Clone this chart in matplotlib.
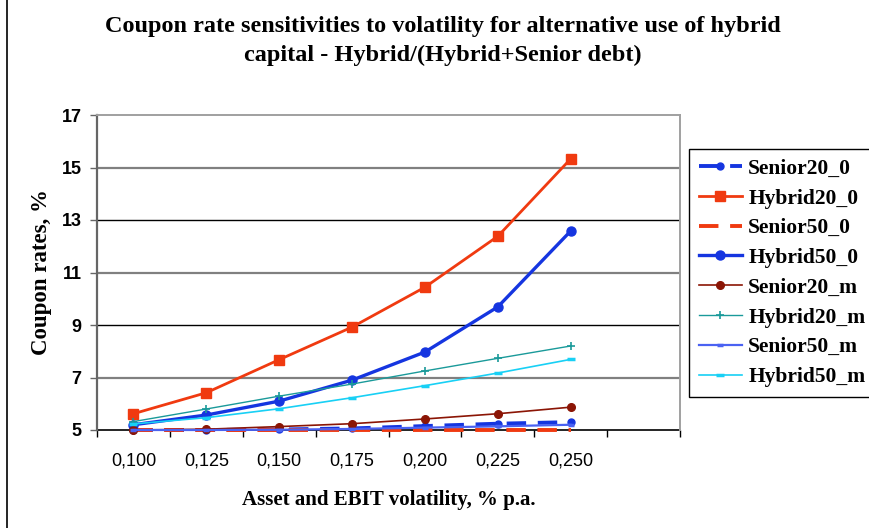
"""Coupon rate sensitivities to volatility - line chart recreation."""

import matplotlib
matplotlib.use("Agg")
import matplotlib.pyplot as plt
from matplotlib.lines import Line2D

# Data
volatility = ["0,100", "0,125", "0,150", "0,175", "0,200", "0,225", "0,250"]
categories = volatility + [""]  # Excel axis has one trailing empty category

senior20_0 = [5.00, 5.00, 5.02, 5.06, 5.15, 5.24, 5.30]
hybrid20_0 = [5.62, 6.42, 7.68, 8.92, 10.44, 12.38, 15.33]
senior50_0 = [5.00, 5.00, 5.00, 5.00, 5.00, 5.00, 5.00]
hybrid50_0 = [5.20, 5.57, 6.10, 6.90, 7.97, 9.69, 12.58]
senior20_m = [5.00, 5.03, 5.13, 5.24, 5.42, 5.62, 5.87]
hybrid20_m = [5.32, 5.80, 6.29, 6.75, 7.25, 7.73, 8.20]
senior50_m = [5.00, 5.00, 5.01, 5.04, 5.09, 5.14, 5.20]
hybrid50_m = [5.23, 5.47, 5.81, 6.23, 6.69, 7.17, 7.69]

y_ticks = [5, 7, 9, 11, 13, 15, 17]

SERIF = "Liberation Serif"
SANS = "Liberation Sans"

fig = plt.figure(figsize=(8.69, 5.28), dpi=100)
ax = fig.add_axes([97 / 869, 1 - 430 / 528, (680 - 97) / 869, (430 - 115) / 528])

x = list(range(len(volatility)))

series = [
    ("Senior20_0", senior20_0, dict(color="#1535E0", lw=2.8, ls=(0, (5, 3)), marker="o", ms=5)),
    ("Hybrid20_0", hybrid20_0, dict(color="#F03A10", lw=2.0, marker="s", ms=6.5)),
    ("Senior50_0", senior50_0, dict(color="#F03A10", lw=2.8, ls=(0, (5, 3)), marker=None)),
    ("Hybrid50_0", hybrid50_0, dict(color="#1535E0", lw=2.4, marker="o", ms=6.5)),
    ("Senior20_m", senior20_m, dict(color="#8B1505", lw=1.2, marker="o", ms=5.5)),
    ("Hybrid20_m", hybrid20_m, dict(color="#1A9A9A", lw=1.0, marker="+", ms=6, mew=1.2)),
    ("Senior50_m", senior50_m, dict(color="#4A62F2", lw=1.6, marker="_", ms=5, mew=2.5)),
    ("Hybrid50_m", hybrid50_m, dict(color="#18D0F5", lw=1.2, marker="_", ms=6, mew=2.5)),
]

for name, vals, style in series:
    ax.plot(x, vals, label=name, zorder=3, clip_on=False, **style)

# Gridlines (alternating tones as in the original export)
for i, yv in enumerate(y_ticks[1:-1]):
    ax.axhline(yv, color="#808080" if i % 2 == 0 else "#000000",
               lw=1.6 if i % 2 == 0 else 1.0, zorder=1)

ax.set_xlim(-0.5, len(categories) - 0.5)
ax.set_ylim(y_ticks[0], y_ticks[-1])

ax.set_yticks(y_ticks)
ax.set_yticklabels([str(v) for v in y_ticks], fontfamily=SANS, fontweight="bold", fontsize=13)
ax.tick_params(axis="y", direction="out", length=5, width=1, color="#666666", pad=6)

ax.set_xticks(range(len(categories)))
ax.set_xticklabels(categories, fontfamily=SANS, fontsize=13)
ax.set_xticks([i - 0.5 for i in range(len(categories) + 1)], minor=True)
ax.tick_params(axis="x", which="major", length=0, pad=16)
ax.tick_params(axis="x", which="minor", direction="out", length=5, width=1, color="#000000")

ax.spines["left"].set_color("#666666")
ax.spines["left"].set_linewidth(1.6)
ax.spines["bottom"].set_color("#000000")
ax.spines["bottom"].set_linewidth(1.2)
ax.spines["bottom"].set_zorder(2)
for side in ("top", "right"):
    ax.spines[side].set_color("#A0A0A0")
    ax.spines[side].set_linewidth(1.4)

ax.set_ylabel("Coupon rates, %", fontfamily=SERIF, fontweight="bold", fontsize=16.5, labelpad=7)
ax.set_xlabel("Asset and EBIT volatility, % p.a.", fontfamily=SERIF, fontweight="bold",
              fontsize=15, labelpad=15)

fig.text(0.51, 1 - 41 / 528,
         "Coupon rate sensitivities to volatility for alternative use of hybrid\n"
         "capital - Hybrid/(Hybrid+Senior debt)",
         ha="center", va="center", fontfamily=SERIF, fontweight="bold", fontsize=17.5,
         linespacing=1.45)

leg = ax.legend(loc="upper left", bbox_to_anchor=(689 / 869, 1 - 149 / 528),
                bbox_transform=fig.transFigure, borderaxespad=0, frameon=True,
                fancybox=False, edgecolor="#000000", framealpha=1,
                prop=dict(family=SERIF, weight="bold", size=15.5),
                handlelength=2.0, handletextpad=0.3, labelspacing=0.45, borderpad=0.45)
leg.get_frame().set_linewidth(1.0)

# Left edge of the chart frame
fig.add_artist(Line2D([7.5 / 869, 7.5 / 869], [0, 1], color="#000000", lw=1.2,
                      transform=fig.transFigure))

fig.savefig("out.png", dpi=100)
